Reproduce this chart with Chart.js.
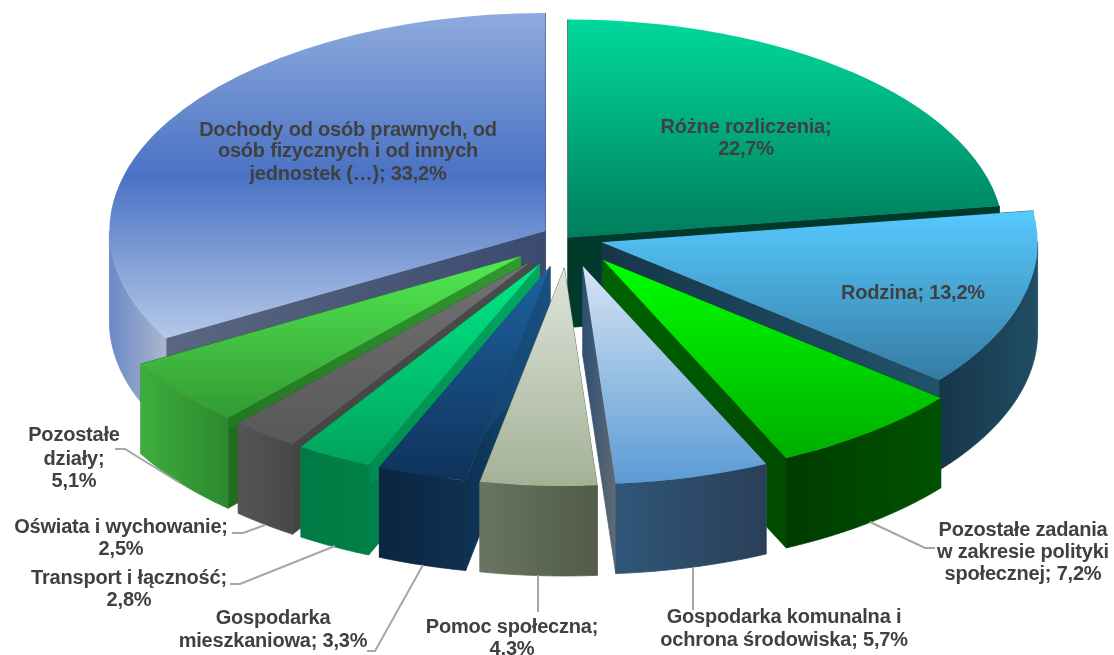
<!DOCTYPE html>
<html lang="pl">
<head>
<meta charset="utf-8">
<title>Struktura wydatków</title>
<script src="https://cdn.jsdelivr.net/npm/chart.js@4/dist/chart.umd.min.js"></script>
<style>
  html, body { margin: 0; padding: 0; background: #fff; }
  #box { width: 1114px; height: 655px; position: relative; overflow: hidden; }
</style>
</head>
<body>
<div id="box"><canvas id="pieChart"></canvas></div>
<script>
// dane
const categories = ["Różne rozliczenia", "Rodzina", "Pozostałe zadania w zakresie polityki społecznej", "Gospodarka komunalna i ochrona środowiska", "Pomoc społeczna", "Gospodarka mieszkaniowa", "Transport i łączność", "Oświata i wychowanie", "Pozostałe działy", "Dochody od osób prawnych, od osób fizycznych i od innych jednostek (…)"];
const shares = [22.7, 13.2, 7.2, 5.7, 4.3, 3.3, 2.8, 2.5, 5.1, 33.2];
const explode = [0, 0.08, 0.131, 0.136, 0.14, 0.14, 0.14, 0.14, 0.14, 0.06];

// kolory: wierzch, ściana boczna, zewnętrzna krawędź
const topColors = [
  ["#00d99c", "#007d5c"],
  ["#57caff", "#357ba3"],
  ["#00ff00", "#00ae00"],
  ["#d6e4f2", "#5b9bd5"],
  ["#e0e3dc", "#a3b295"],
  ["#1d639e", "#0f325c"],
  ["#00e888", "#00a45c"],
  ["#727272", "#585858"],
  ["#52ea52", "#339a33"],
  ["#8fabdd", "#4a72c4", "#b5c8e8"],
];
const wallColors = [
  ["#003a2b", "#003a2b"],
  ["#173649", "#20526a"],
  ["#006400", "#004a00"],
  ["#2e4f72", "#616b74"],
  ["#5f6b58", "#5f6b58"],
  ["#0c3052", "#185080"],
  ["#00804a", "#00a862"],
  ["#444444", "#4c4c4c"],
  ["#1f6c1f", "#2f9a2f"],
  ["#5a6780", "#3b4a70"],
];
const rimColors = [
  ["#003a2b", "#003a2b"],
  ["#16364a", "#204d63"],
  ["#003c00", "#005200"],
  ["#2f5679", "#2a3f58"],
  ["#687560", "#525c48"],
  ["#0a2540", "#0f3050"],
  ["#007a45", "#008044"],
  ["#555555", "#484848"],
  ["#3dae3d", "#2e882e"],
  ["#6a88c5", "#abb7cd"],
];

// etykiety: środek x, kolejne linie (y środka)
const labels = [
  { x: 746, lines: [["Różne rozliczenia;", 127], ["22,7%", 149]] },
  { x: 913, lines: [["Rodzina; 13,2%", 293]] },
  { x: 1023, lines: [["Pozostałe zadania", 530], ["w zakresie polityki", 552], ["społecznej; 7,2%", 574]] },
  { x: 784, lines: [["Gospodarka komunalna i", 617], ["ochrona środowiska; 5,7%", 640]] },
  { x: 512, lines: [["Pomoc społeczna;", 627], ["4,3%", 649]] },
  { x: 273, lines: [["Gospodarka", 618], ["mieszkaniowa; 3,3%", 641]] },
  { x: 129, lines: [["Transport i łączność;", 578], ["2,8%", 600]] },
  { x: 121, lines: [["Oświata i wychowanie;", 527], ["2,5%", 549]] },
  { x: 74, lines: [["Pozostałe", 435], ["działy;", 459], ["5,1%", 481]] },
  { x: 348, lines: [["Dochody od osób prawnych, od", 130], ["osób fizycznych i od innych", 151], ["jednostek (…); 33,2%", 174]] },
];
const leaders = [
  [[935, 548], [925, 548], [870, 522]],
  [[693, 568], [693, 610]],
  [[538, 575], [538, 612]],
  [[367, 651], [375, 651], [423, 565]],
  [[230, 584], [240, 584], [335, 546]],
  [[232, 533], [243, 533], [265, 525]],
  [[115, 449], [125, 449], [180, 483]],
];

// geometria rzutu 3D
const RADIUS = 200;
const RX = 436;
const RY = 218;
const DEPTH = 90;
const CENTER_X = 568;
const CENTER_Y = 237.5;

function fadeStops(grad, stops) {
  stops.forEach((c, i) => grad.addColorStop(i / (stops.length - 1), c));
  return grad;
}

function topFill(context) {
  const chart = context.chart;
  const i = context.dataIndex;
  if (!chart.chartArea || i === undefined) return topColors[0][0];
  const total = shares.reduce((s, v) => s + v, 0);
  const before = shares.slice(0, i).reduce((s, v) => s + v, 0);
  const a0 = before / total * Math.PI * 2;
  const a1 = (before + shares[i]) / total * Math.PI * 2;
  const ys = [0, -Math.cos(a0), -Math.cos(a1)];
  if (a0 <= Math.PI && a1 >= Math.PI) ys.push(1);
  if (a1 >= Math.PI * 2 - 0.001) ys.push(-1);
  const cy = (chart.chartArea.top + chart.chartArea.bottom) / 2;
  const grad = chart.ctx.createLinearGradient(0, cy + Math.min(...ys) * RADIUS, 0, cy + Math.max(...ys) * RADIUS);
  return fadeStops(grad, topColors[i]);
}

function fillFace(ctx, pts, stops) {
  const xs = pts.map(p => p.x);
  const grad = fadeStops(ctx.createLinearGradient(Math.min(...xs), 0, Math.max(...xs) + 0.01, 0), stops);
  ctx.fillStyle = grad;
  ctx.strokeStyle = grad;
  ctx.lineWidth = 0.8;
  ctx.beginPath();
  pts.forEach((p, n) => (n ? ctx.lineTo(p.x, p.y) : ctx.moveTo(p.x, p.y)));
  ctx.closePath();
  ctx.fill();
  ctx.stroke();
}

const pie3d = {
  id: "pie3d",
  beforeDatasetsDraw(chart) {
    const ctx = chart.ctx;
    const arcs = chart.getDatasetMeta(0).data;

    const info = arcs.map((arc, i) => {
      const mid = (arc.startAngle + arc.endAngle) / 2;
      const shift = explode[i];
      return {
        arc, i, mid, shift,
        x: CENTER_X + Math.cos(mid) * shift * RX,
        y: CENTER_Y + Math.sin(mid) * shift * RY,
      };
    });

    // boki: od tyłu do przodu
    [...info].sort((p, q) => Math.sin(p.mid) - Math.sin(q.mid)).forEach(s => {
      const edge = a => ({ x: s.x + Math.cos(a) * RX, y: s.y + Math.sin(a) * RY });
      const down = p => ({ x: p.x, y: p.y + DEPTH });
      const apex = { x: s.x, y: s.y };
      [s.arc.startAngle, s.arc.endAngle].forEach(a => {
        const e = edge(a);
        fillFace(ctx, [apex, e, down(e), down(apex)], wallColors[s.i]);
      });
      // krawędź zewnętrzna tylko od przodu (kąt 0..PI)
      const from = Math.max(s.arc.startAngle, 0);
      const to = Math.min(s.arc.endAngle, Math.PI);
      if (to > from) {
        const rim = [];
        const steps = 60;
        for (let k = 0; k <= steps; k++) rim.push(edge(from + (to - from) * k / steps));
        fillFace(ctx, rim.concat(rim.map(down).reverse()), rimColors[s.i]);
      }
    });

    // wierzch: elementy Arc rysowane w przekształconym kontekście
    info.forEach(s => {
      ctx.save();
      ctx.translate(s.x, s.y);
      ctx.scale(RX / s.arc.outerRadius, RY / s.arc.outerRadius);
      ctx.translate(-s.arc.x, -s.arc.y);
      s.arc.draw(ctx);
      ctx.restore();
    });
    return false;
  },
  afterDraw(chart) {
    const ctx = chart.ctx;
    ctx.save();
    ctx.strokeStyle = "#a6a6a6";
    ctx.lineWidth = 2;
    leaders.forEach(l => {
      ctx.beginPath();
      l.forEach((p, n) => (n ? ctx.lineTo(p[0], p[1]) : ctx.moveTo(p[0], p[1])));
      ctx.stroke();
    });
    ctx.fillStyle = "#404040";
    ctx.font = "bold 20px 'Liberation Sans', Arial, sans-serif";
    ctx.letterSpacing = "-0.2px";
    ctx.textAlign = "center";
    ctx.textBaseline = "middle";
    labels.forEach(b => b.lines.forEach(l => ctx.fillText(l[0], b.x, l[1])));
    ctx.restore();
  },
};

new Chart(document.getElementById("pieChart").getContext("2d"), {
  type: "pie",
  data: {
    labels: categories,
    datasets: [
      {
        data: shares,
        backgroundColor: topFill,
        borderWidth: 0,
      },
    ],
  },
  options: {
    responsive: true,
    maintainAspectRatio: false,
    animation: false,
    radius: RADIUS,
    plugins: {
      legend: { display: false },
      tooltip: { enabled: false },
    },
  },
  plugins: [pie3d],
});
</script>
</body>
</html>
